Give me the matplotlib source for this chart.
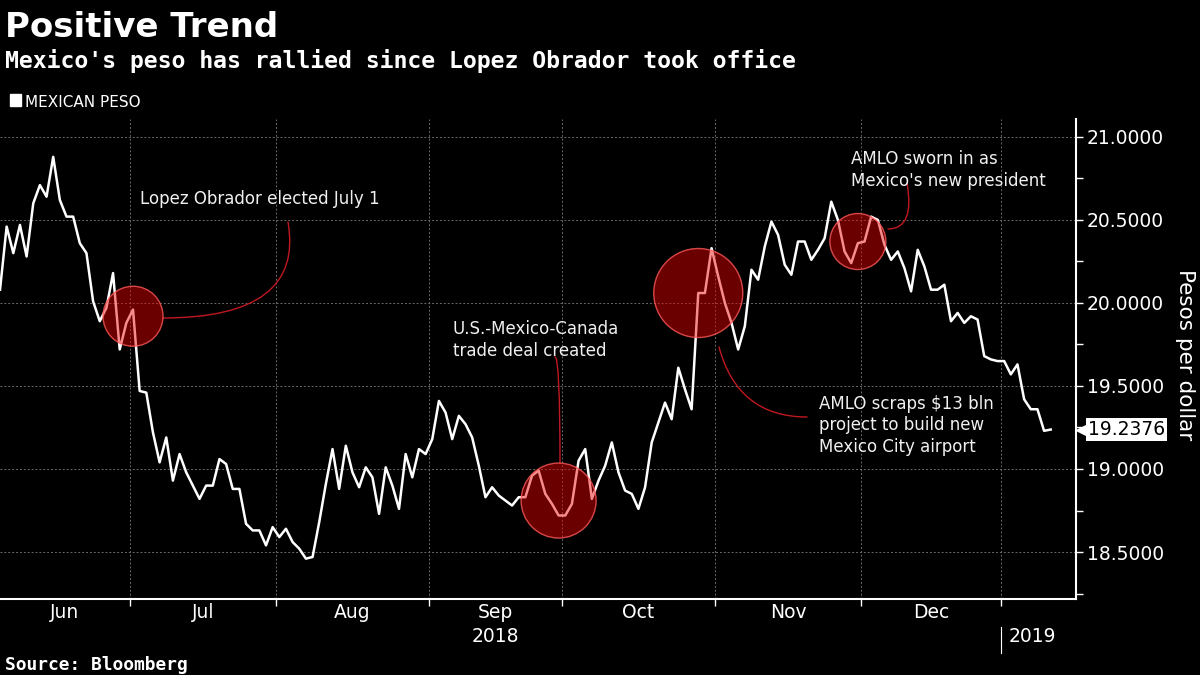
import numpy as np
import pandas as pd
import matplotlib
matplotlib.use('Agg')
import matplotlib.pyplot as plt
import matplotlib.transforms as mtransforms
from matplotlib.patches import Rectangle

# USD/MXN, one value per business day starting 4 Jun 2018
peso = [20.08, 20.46, 20.30, 20.47, 20.28, 20.60, 20.71, 20.64, 20.88, 20.62,
        20.52, 20.52, 20.36, 20.30, 20.01, 19.89, 19.97, 20.18, 19.72, 19.88,
        19.96, 19.47, 19.46, 19.22, 19.04, 19.19, 18.93, 19.09, 18.98, 18.90,
        18.82, 18.90, 18.90, 19.06, 19.03, 18.88, 18.88, 18.67, 18.63, 18.63,
        18.54, 18.65, 18.59, 18.64, 18.56, 18.52, 18.46, 18.47, 18.68, 18.91,
        19.12, 18.88, 19.14, 18.98, 18.89, 19.01, 18.95, 18.73, 19.01, 18.90,
        18.76, 19.09, 18.95, 19.12, 19.09, 19.18, 19.41, 19.34, 19.18, 19.32,
        19.27, 19.19, 19.02, 18.83, 18.89, 18.84, 18.81, 18.78, 18.83, 18.83,
        18.96, 18.99, 18.85, 18.79, 18.72, 18.72, 18.79, 19.05, 19.12, 18.82,
        18.93, 19.02, 19.16, 18.98, 18.87, 18.85, 18.76, 18.89, 19.16, 19.28,
        19.40, 19.30, 19.61, 19.48, 19.36, 20.06, 20.06, 20.33, 20.16, 20.00,
        19.88, 19.72, 19.86, 20.20, 20.14, 20.34, 20.49, 20.41, 20.23, 20.17,
        20.37, 20.37, 20.26, 20.32, 20.39, 20.61, 20.50, 20.31, 20.24, 20.36,
        20.37, 20.52, 20.50, 20.35, 20.26, 20.31, 20.21, 20.07, 20.32, 20.22,
        20.08, 20.08, 20.11, 19.89, 19.94, 19.88, 19.92, 19.90, 19.68, 19.66,
        19.65, 19.65, 19.57, 19.63, 19.42, 19.36, 19.36, 19.23, 19.2376]
start_date = '2018-06-04'

month_names = ['Jun', 'Jul', 'Aug', 'Sep', 'Oct', 'Nov', 'Dec']
year_names = ['2018', '2019']

event_dates = ['2018-07-02', '2018-09-28', '2018-10-29', '2018-11-30']
event_levels = [19.92, 18.81, 20.06, 20.37]
event_texts = ['Lopez Obrador elected July 1',
               'U.S.-Mexico-Canada\ntrade deal created',
               'AMLO scraps $13 bln\nproject to build new\nMexico City airport',
               "AMLO sworn in as\nMexico's new president"]

W, H = 1200, 675
RED = '#c01820'
GRID = '#6a6a6a'


def fx(px):
    return px / W


def fy(py):
    return 1 - py / H


dates = pd.bdate_range(start_date, periods=len(peso))
x = np.arange(len(peso))

fig = plt.figure(figsize=(12, 6.75), dpi=100, facecolor='black')
ax = fig.add_axes([0, fy(599), fx(1076), 480 / H])
ax.set_facecolor('black')

ax.plot(x, peso, color='white', lw=1.8, zorder=3)
ax.set_xlim(0, 161.8)
ax.set_ylim(18.217, 21.108)

# month boundaries (between last day of a month and first of the next)
month_starts = pd.date_range('2018-07-01', '2019-01-01', freq='MS')
bounds = [dates.searchsorted(m) - 0.5 for m in month_starts]
ax.set_xticks(bounds)
ax.set_xticklabels([])
ax.tick_params(axis='x', length=5, width=1, color='white')

edges = [ax.get_xlim()[0]] + bounds
xt = ax.get_xaxis_transform()
for i, name in enumerate(month_names):
    ax.text((edges[i] + edges[i + 1]) / 2, -0.029, name, transform=xt,
            ha='center', va='center', color='white', fontsize=13.5)
ax.text((edges[3] + edges[4]) / 2, -0.079, year_names[0], transform=xt,
        ha='center', va='center', color='white', fontsize=13.5)
ax.text(bounds[-1] + 1.2, -0.079, year_names[1], transform=xt,
        ha='left', va='center', color='white', fontsize=13.5)
ax.plot([bounds[-1], bounds[-1]], [-0.058, -0.112], transform=xt,
        color='white', lw=0.8, clip_on=False)

# y axis on the right
ax.yaxis.tick_right()
ax.set_yticks(np.arange(18.5, 21.01, 0.5))
ax.set_yticks(np.arange(18.25, 21.0, 0.5), minor=True)
ax.yaxis.set_major_formatter(plt.FuncFormatter(lambda v, p: f'{v:.4f}'))
ax.tick_params(axis='y', which='both', length=5, width=1, color='white',
               labelcolor='white', labelsize=13.5, pad=3)

ax.grid(True, which='major', color=GRID, lw=0.7, ls=(0, (2, 2)))
for s in ['left', 'top']:
    ax.spines[s].set_visible(False)
for s in ['right', 'bottom']:
    ax.spines[s].set_color('white')
    ax.spines[s].set_linewidth(1.5)

# event circles
ev_x = [dates.get_loc(pd.Timestamp(d)) for d in event_dates]
radius_px = [30, 37.5, 44.5, 28]
sizes = [(2 * r * 0.72) ** 2 for r in radius_px]
ax.scatter(ev_x, event_levels, s=sizes, facecolor=(0.93, 0.0, 0.0, 0.45),
           edgecolor=(1.0, 0.35, 0.35, 0.8), lw=1, zorder=4)

# annotation texts
txt_kw = dict(color='#f0f0f0', fontsize=12, ha='left', va='top', linespacing=1.25)
fig.text(fx(140), fy(190), event_texts[0], **txt_kw)
fig.text(fx(453), fy(320), event_texts[1], **txt_kw)
fig.text(fx(819), fy(395), event_texts[2], **txt_kw)
fig.text(fx(851), fy(150), event_texts[3], **txt_kw)

# connectors (figure pixels, origin bottom-left)
conn = [((288, H - 222), (163, H - 318), 'angle3,angleA=-80,angleB=0'),
        ((555, H - 357), (560, H - 463), 'angle3,angleA=0,angleB=90'),
        ((807, H - 417), (719, H - 347), 'angle3,angleA=0,angleB=-75'),
        ((907, H - 183), (888, H - 229), 'angle3,angleA=-80,angleB=0')]
for a, b, cs in conn:
    ax.annotate('', xy=b, xytext=a, xycoords='figure pixels',
                textcoords='figure pixels',
                arrowprops=dict(arrowstyle='-', color=RED, lw=1,
                                connectionstyle=cs, shrinkA=0, shrinkB=0))

# last value tag
tr = mtransforms.blended_transform_factory(ax.transAxes, ax.transData)
ax.plot([1.0065], [peso[-1]], marker='<', ms=10, color='white', mec='white',
        transform=tr, clip_on=False, zorder=6)
ax.text(1.0112, peso[-1], f'{peso[-1]:.4f}', transform=tr, color='black',
        fontsize=13.5, ha='left', va='center', clip_on=False, zorder=7,
        bbox=dict(boxstyle='square,pad=0.12', fc='white', ec='none'))

fig.text(fx(1185), fy(355), 'Pesos per dollar', rotation=270, color='white',
         fontsize=15.5, ha='center', va='center')

# titles, legend, source
fig.text(fx(5), fy(37), 'Positive Trend', color='white', fontsize=24.5,
         fontweight='bold', va='baseline')
fig.text(fx(5), fy(68), "Mexico's peso has rallied since Lopez Obrador took office",
         color='white', fontsize=16.7, fontweight='bold',
         family='DejaVu Sans Mono', va='baseline')
fig.patches.append(Rectangle((fx(10), fy(106)), 11 / W, 12 / H,
                             transform=fig.transFigure, color='white'))
fig.text(fx(25), fy(107), 'MEXICAN PESO', color='white', fontsize=11,
         va='baseline')
fig.text(fx(5), fy(670), 'Source: Bloomberg', color='white', fontsize=12.9,
         fontweight='bold', family='DejaVu Sans Mono', va='baseline')

fig.savefig('out.png', dpi=100, facecolor='black')
